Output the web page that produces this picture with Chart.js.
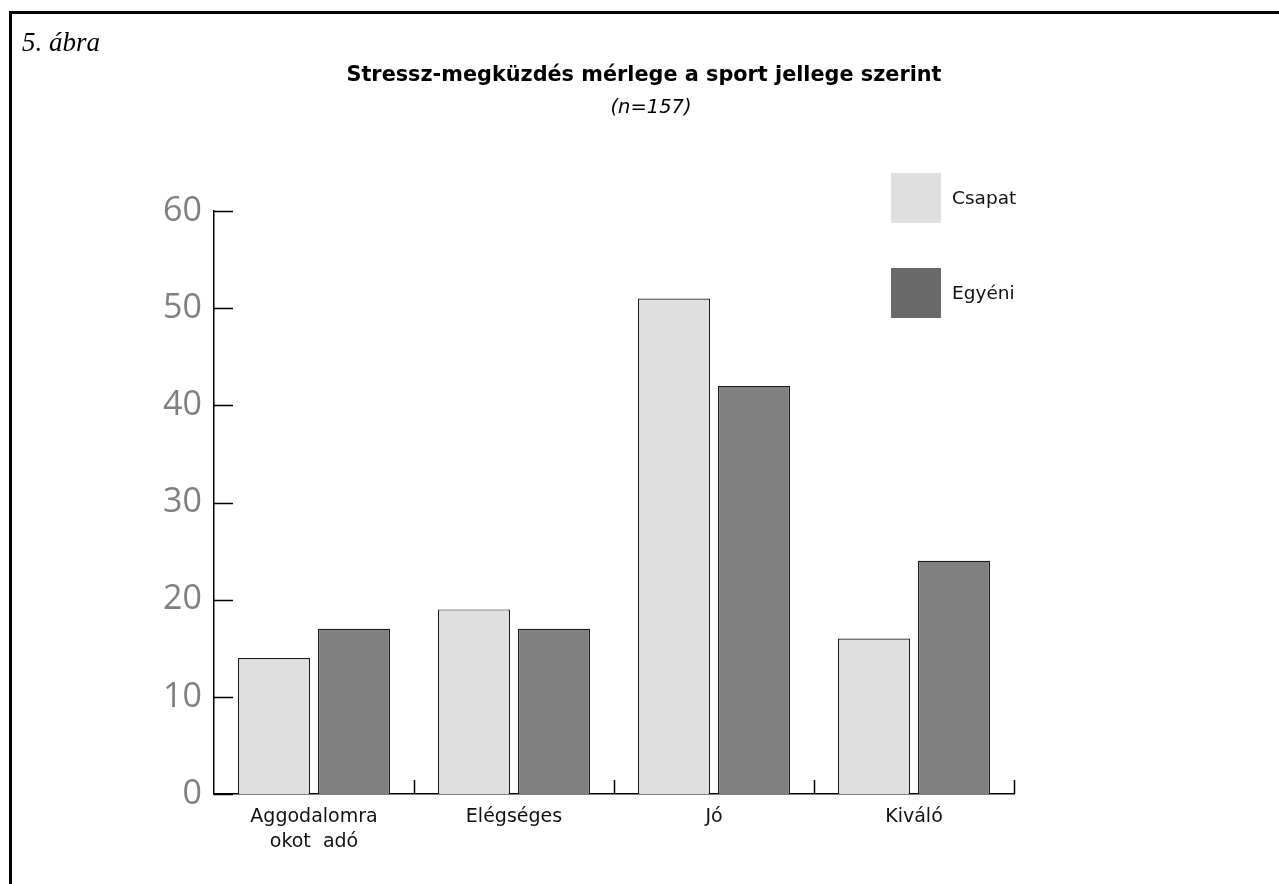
<!DOCTYPE html>
<html>
<head>
<meta charset="utf-8">
<script src="https://cdn.jsdelivr.net/npm/chart.js@4/dist/chart.umd.min.js"></script>
<style>
html,body{margin:0;padding:0;background:#fff;}
#wrap{width:1279px;height:884px;position:relative;}
</style>
</head>
<body>
<div id="wrap"><canvas id="c" width="1279" height="884"></canvas></div>
<script>
const categories = [['Aggodalomra','okot  adó'], 'Elégséges', 'Jó', 'Kiváló'];
const csapatValues = [14, 19, 51, 16];
const egyeniValues = [17, 17, 42, 24];
const yTicks = [0, 10, 20, 30, 40, 50, 60];
const seriesNames = ['Csapat', 'Egyéni'];
const figureLabel = '5. ábra';
const titleText = 'Stressz-megküzdés mérlege a sport jellege szerint';
const subtitleText = '(n=157)';

const SANS = '"DejaVu Sans", "Noto Sans", sans-serif';

const decor = {
  id: 'decor',
  beforeDraw(chart) {
    const ctx = chart.ctx;
    ctx.save();
    ctx.fillStyle = '#fff';
    ctx.fillRect(0, 0, chart.width, chart.height);
    ctx.fillStyle = '#000';
    ctx.fillRect(9, 11, 3, chart.height - 11);
    ctx.fillRect(9, 11, chart.width - 9, 3);
    ctx.font = 'italic 27px "Liberation Serif", serif';
    ctx.textBaseline = 'alphabetic';
    ctx.textAlign = 'left';
    ctx.fillText(figureLabel, 22, 51);
    ctx.textAlign = 'center';
    ctx.textBaseline = 'middle';
    ctx.font = 'bold 20.8px ' + SANS;
    ctx.fillText(titleText, 644, 76);
    ctx.font = 'oblique 19.5px ' + SANS;
    ctx.fillText(subtitleText, 651, 108);
    ctx.restore();
  },
  afterDraw(chart) {
    const ctx = chart.ctx;
    const y = chart.scales.y, x = chart.scales.x;
    const area = chart.chartArea;
    ctx.save();
    ctx.strokeStyle = '#000';
    ctx.lineWidth = 1.5;
    ctx.beginPath();
    y.ticks.forEach(t => {
      const py = Math.round(y.getPixelForValue(t.value)) + 0.5;
      ctx.moveTo(area.left, py);
      ctx.lineTo(area.left + 19, py);
    });
    const n = chart.data.labels.length;
    const w = x.getPixelForValue(1) - x.getPixelForValue(0);
    for (let i = 0; i < n; i++) {
      const px = Math.round(x.getPixelForValue(i) + w / 2) + 0.5;
      ctx.moveTo(px, area.bottom);
      ctx.lineTo(px, area.bottom - 14);
    }
    ctx.stroke();
    // legend
    const legendColors = ['#dfdfdf', '#696969'];
    ctx.font = '18.5px ' + SANS;
    ctx.textAlign = 'left';
    ctx.textBaseline = 'middle';
    chart.data.datasets.forEach((ds, i) => {
      const top = 173 + i * 95;
      ctx.fillStyle = legendColors[i];
      ctx.fillRect(891, top, 50, 50);
      ctx.fillStyle = '#111';
      ctx.fillText(ds.label, 952, top + 26);
    });
    ctx.restore();
  }
};

new Chart(document.getElementById('c'), {
  type: 'bar',
  data: {
    labels: categories,
    datasets: [
      { label: seriesNames[0], data: csapatValues, backgroundColor: '#dfdfdf', borderColor: '#1a1a1a', borderWidth: 1.2 },
      { label: seriesNames[1], data: egyeniValues, backgroundColor: '#808080', borderColor: '#1a1a1a', borderWidth: 1.2 }
    ]
  },
  options: {
    responsive: false,
    animation: false,
    events: [],
    layout: { padding: { left: 0, top: 211, right: 265, bottom: 0 } },
    plugins: { legend: { display: false }, title: { display: false }, tooltip: { enabled: false } },
    datasets: { bar: { categoryPercentage: 0.8, barPercentage: 0.9 } },
    scales: {
      x: {
        grid: { display: false, drawTicks: false },
        border: { display: true, color: '#000', width: 1.5 },
        ticks: { color: '#111', font: { family: SANS, size: 19, lineHeight: 1.3 }, padding: 11, maxRotation: 0 },
        afterFit(s) { s.height = 90; }
      },
      y: {
        min: 0, max: 60,
        afterBuildTicks(s) { s.ticks = yTicks.map(v => ({ value: v })); },
        grid: { display: false, drawTicks: false },
        border: { display: true, color: '#000', width: 1.5 },
        ticks: { color: '#808080', font: { family: '"Open Sans", sans-serif', size: 34, weight: '400' }, padding: 12 },
        afterFit(s) { s.width = 214; }
      }
    }
  },
  plugins: [decor]
});
</script>
</body>
</html>
